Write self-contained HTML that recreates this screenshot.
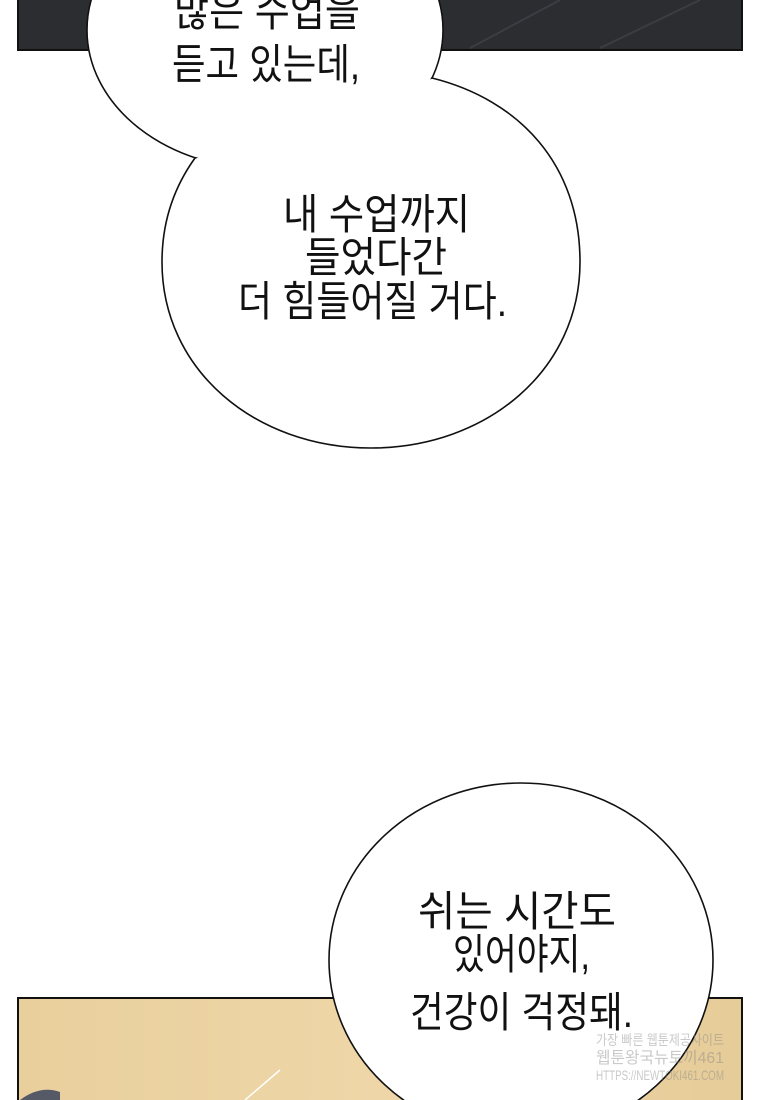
<!DOCTYPE html>
<html><head><meta charset="utf-8"><style>
html,body{margin:0;padding:0;background:#fff;width:760px;height:1100px;overflow:hidden}
svg text{font-family:"Liberation Sans","Noto Sans CJK KR",sans-serif;font-size:42px;fill:#111;font-weight:normal}
</style></head><body>
<svg width="760" height="1100" viewBox="0 0 760 1100" xmlns="http://www.w3.org/2000/svg">
<defs><linearGradient id="bg" x1="0" x2="1"><stop offset="0" stop-color="#e9cf9c"/><stop offset="0.5" stop-color="#eed6a8"/><stop offset="1" stop-color="#e6cc98"/></linearGradient></defs>
<rect x="18" y="-2" width="724" height="52" fill="#2c2d31" stroke="#111" stroke-width="2"/>
<line x1="470" y1="48" x2="560" y2="0" stroke="#3c3d42" stroke-width="2"/>
<line x1="600" y1="48" x2="700" y2="0" stroke="#3c3d42" stroke-width="2"/>
<rect x="18" y="998" width="724" height="104" fill="url(#bg)" stroke="#111" stroke-width="2"/>
<path d="M20 1100 Q40 1085 60 1092 L60 1100Z" fill="#555a66"/>
<line x1="245" y1="1100" x2="280" y2="1070" stroke="#fff" stroke-width="1.5"/>
<ellipse cx="265" cy="30" rx="178" ry="139" fill="#fff" stroke="#111" stroke-width="1.6"/>
<path d="M195,158 C172,190 162,225 162,262 C162,370 255,448 371,448 C487,448 580,370 580,262 C580,165 520,100 432,78 Z" fill="#fff" stroke="#111" stroke-width="1.6"/>
<ellipse cx="265" cy="30" rx="177" ry="138" fill="#fff"/>
<text x="174" y="26" textLength="186" lengthAdjust="spacingAndGlyphs">많은 수업을</text>
<text x="172" y="79" textLength="188" lengthAdjust="spacingAndGlyphs">듣고 있는데,</text>
<text x="283" y="229" textLength="187" lengthAdjust="spacingAndGlyphs">내 수업까지</text>
<text x="305" y="272" textLength="142" lengthAdjust="spacingAndGlyphs">들었다간</text>
<text x="238" y="316" textLength="269" lengthAdjust="spacingAndGlyphs">더 힘들어질 거다.</text>
<ellipse cx="521" cy="960" rx="192" ry="177" fill="#fff" stroke="#111" stroke-width="1.6"/>
<text x="418" y="926" textLength="198" lengthAdjust="spacingAndGlyphs">쉬는 시간도</text>
<text x="453" y="969" textLength="137" lengthAdjust="spacingAndGlyphs">있어야지,</text>
<text x="410" y="1027" textLength="223" lengthAdjust="spacingAndGlyphs">건강이 걱정돼.</text>
<g opacity="0.45">
<text x="596" y="1045" style="font-size:14px;fill:#888" textLength="128" lengthAdjust="spacingAndGlyphs">가장 빠른 웹툰제공사이트</text>
<text x="596" y="1063" style="font-size:16px;fill:#888" textLength="128" lengthAdjust="spacingAndGlyphs">웹툰왕국뉴토끼461</text>
<text x="596" y="1080" style="font-size:14px;fill:#888" textLength="128" lengthAdjust="spacingAndGlyphs">HTTPS://NEWTOKI461.COM</text>
</g>
</svg>
</body></html>
